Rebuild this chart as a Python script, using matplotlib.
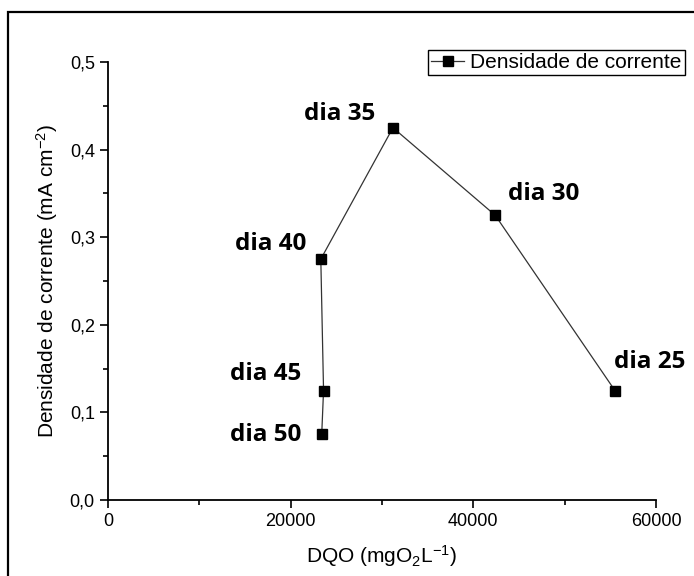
import matplotlib.pyplot as plt
from matplotlib.patches import Rectangle
from matplotlib.ticker import MultipleLocator, FuncFormatter

# DQO (mgO2/L) vs current density (mA/cm2), in sampling order
dqo = [55500, 42400, 31200, 23300, 23600, 23400]
densidade = [0.125, 0.325, 0.425, 0.275, 0.125, 0.075]
dias = ["dia 25", "dia 30", "dia 35", "dia 40", "dia 45", "dia 50"]
label_offsets = [(35, 29), (48, 21), (-53, 14), (-50, 15), (-58, 16), (-56, -1)]  # pixels

plt.rcParams['font.family'] = ['Liberation Sans', 'DejaVu Sans']
plt.rcParams['mathtext.fontset'] = 'custom'
plt.rcParams['mathtext.rm'] = 'Liberation Sans'
plt.rcParams['mathtext.it'] = 'Liberation Sans:italic'

fig = plt.figure(figsize=(6.94, 5.76), dpi=100)
ax = fig.add_axes([108 / 694, 1 - 500 / 576, 548 / 694, 438 / 576])

# outer frame around the whole picture
fig.patches.append(Rectangle((8 / 694, -0.01), 1.0, 1 - 12 / 576 + 0.01,
                             transform=fig.transFigure, fill=False,
                             edgecolor='black', linewidth=1.6))

ax.plot(dqo, densidade, color='#333333', linewidth=0.9, marker='s',
        markersize=6.5, markerfacecolor='black', markeredgecolor='black',
        label='Densidade de corrente')

for x, y, txt, off in zip(dqo, densidade, dias, label_offsets):
    ax.annotate(txt, (x, y), xytext=off, textcoords='offset pixels',
                ha='center', va='center', fontsize=17.5, fontweight='bold',
                family=['Open Sans', 'DejaVu Sans'])

ax.set_xlim(0, 60000)
ax.set_ylim(0, 0.5)
ax.xaxis.set_major_locator(MultipleLocator(20000))
ax.xaxis.set_minor_locator(MultipleLocator(10000))
ax.yaxis.set_major_locator(MultipleLocator(0.1))
ax.yaxis.set_minor_locator(MultipleLocator(0.05))
ax.yaxis.set_major_formatter(FuncFormatter(lambda v, p: f"{v:.1f}".replace('.', ',')))

for side in ['top', 'right']:
    ax.spines[side].set_visible(False)
for side in ['left', 'bottom']:
    ax.spines[side].set_linewidth(1.3)

ax.tick_params(which='major', direction='out', length=6, width=1.2, labelsize=13)
ax.tick_params(which='minor', direction='out', length=3.5, width=1.2)

ax.set_xlabel("DQO (mgO$_2$L$^{-1}$)", fontsize=15, labelpad=9)
ax.set_ylabel("Densidade de corrente (mA cm$^{-2}$)", fontsize=15, labelpad=7)

leg = ax.legend(loc='upper right', bbox_to_anchor=(685 / 694, 1 - 50 / 576),
                bbox_transform=fig.transFigure, fontsize=15, fancybox=False,
                edgecolor='black', framealpha=1, handlelength=1.6,
                borderpad=0.15, handletextpad=0.3, borderaxespad=0)
leg.get_frame().set_linewidth(1.0)

fig.savefig('out.png', dpi=100)
